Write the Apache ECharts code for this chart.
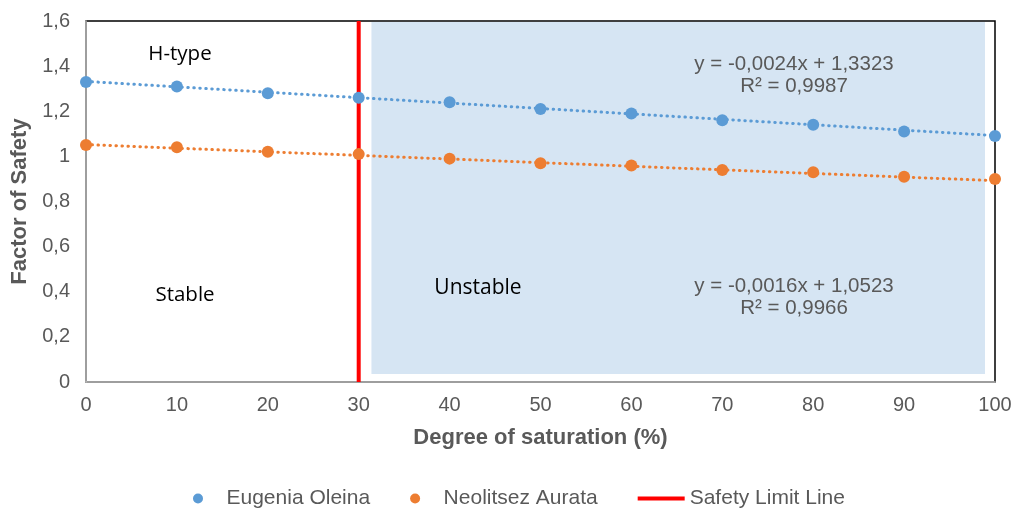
<!DOCTYPE html>
<html>
<head>
<meta charset="utf-8">
<script src="https://cdn.jsdelivr.net/npm/echarts@6/dist/echarts.min.js"></script>
<style>
html,body{margin:0;padding:0;background:#fff;}
#chart{width:1015px;height:509px;}
</style>
</head>
<body>
<div id="chart"></div>
<script>
// ---- data ----
const saturation = [0, 10, 20, 30, 40, 50, 60, 70, 80, 90, 100];
const eugeniaOleina = [1.33, 1.31, 1.28, 1.26, 1.24, 1.21, 1.19, 1.16, 1.14, 1.11, 1.09];
const neolitsezAurata = [1.05, 1.04, 1.02, 1.01, 0.99, 0.97, 0.96, 0.94, 0.93, 0.91, 0.90];
// trend line end values (x = 0 and x = 100)
const trendX = [0, 100];
const trendEugenia = [1.3323, 1.0923];
const trendNeolitsez = [1.0523, 0.8923];
// safety limit line
const safetyLimitX = 30;
const safetyLimitY = [0, 1.6];
// shaded "unstable" zone in data units
const unstableZoneX = [31.4, 98.9];
const unstableZoneY = [0.035, 1.596];
const yTicks = { min: 0, max: 1.6, interval: 0.2 };
const xTicks = { min: 0, max: 100, interval: 10 };
const seriesNames = ['Eugenia Oleina', 'Neolitsez Aurata', 'Safety Limit Line'];
const equations = [
  ['y = -0,0024x + 1,3323', 'R² = 0,9987'],
  ['y = -0,0016x + 1,0523', 'R² = 0,9966']
];
const regionLabels = ['H-type', 'Stable', 'Unstable'];

const BLUE = '#5B9BD5', ORANGE = '#ED7D31', GRAY = '#595959';
const pairs = (xs, ys) => xs.map((x, i) => [x, ys[i]]);
const fmt = v => String(+(+v).toFixed(1)).replace('.', ',');

const chart = echarts.init(document.getElementById('chart'), null, { renderer: 'canvas' });
const dotted = c => ({ color: c, width: 3, type: [0.5, 5.5], cap: 'round' });
const txt = (t, x, y, size, fill, fam) => ({
  type: 'text', z: 100, position: [x, y],
  style: { text: t, fontFamily: fam, fontSize: size, fill: fill, textAlign: 'center', textVerticalAlign: 'middle' }
});

chart.setOption({
  animation: false,
  backgroundColor: '#fff',
  grid: { left: 86, right: 20, top: 21, bottom: 127, show: true, borderColor: '#000', borderWidth: 1.5, backgroundColor: 'transparent' },
  xAxis: {
    type: 'value', min: xTicks.min, max: xTicks.max, interval: xTicks.interval,
    name: 'Degree of saturation (%)', nameLocation: 'middle', nameGap: 45,
    nameTextStyle: { fontFamily: 'Liberation Sans', fontSize: 22, fontWeight: 'bold', color: GRAY },
    axisLine: { show: true, lineStyle: { color: '#BFBFBF', width: 1.5 } },
    axisTick: { show: false }, splitLine: { show: false },
    axisLabel: { fontFamily: 'Liberation Sans', fontSize: 20, color: GRAY, margin: 13 }
  },
  yAxis: {
    type: 'value', min: yTicks.min, max: yTicks.max, interval: yTicks.interval,
    name: 'Factor of Safety', nameLocation: 'middle', nameGap: 55,
    nameTextStyle: { fontFamily: 'Liberation Sans', fontSize: 22, fontWeight: 'bold', color: GRAY },
    axisLine: { show: true, lineStyle: { color: '#BFBFBF', width: 1.5 } },
    axisTick: { show: false }, splitLine: { show: false },
    axisLabel: { fontFamily: 'Liberation Sans', fontSize: 20, color: GRAY, margin: 16, formatter: fmt }
  },
  legend: {
    left: 188, top: 483, itemWidth: 47, itemHeight: 10, itemGap: 40,
    textStyle: { fontFamily: 'Liberation Sans', fontSize: 21, color: GRAY },
    data: [
      { name: seriesNames[0], icon: 'circle' },
      { name: seriesNames[1], icon: 'circle' },
      { name: seriesNames[2], icon: 'path://M0,0L47,0L47,4L0,4Z' }
    ]
  },
  series: [
    { name: seriesNames[2], type: 'line', z: 1, symbol: 'none', silent: true,
      data: safetyLimitY.map(y => [safetyLimitX, y]),
      lineStyle: { color: '#FF0000', width: 4 }, itemStyle: { color: '#FF0000' } },
    { name: 'trendE', type: 'line', z: 2, symbol: 'none', silent: true,
      data: pairs(trendX, trendEugenia), lineStyle: dotted(BLUE) },
    { name: 'trendN', type: 'line', z: 2, symbol: 'none', silent: true,
      data: pairs(trendX, trendNeolitsez), lineStyle: dotted(ORANGE) },
    { name: seriesNames[0], type: 'scatter', z: 3, symbol: 'circle', symbolSize: 12,
      data: pairs(saturation, eugeniaOleina), itemStyle: { color: BLUE, opacity: 1 } },
    { name: seriesNames[1], type: 'scatter', z: 3, symbol: 'circle', symbolSize: 12,
      data: pairs(saturation, neolitsezAurata), itemStyle: { color: ORANGE, opacity: 1 } },
    { name: 'zone', type: 'line', z: 10, data: [], silent: true,
      markArea: { silent: true, itemStyle: { color: 'rgba(96,155,210,0.26)' },
        data: [[{ coord: [unstableZoneX[0], unstableZoneY[0]] }, { coord: [unstableZoneX[1], unstableZoneY[1]] }]] } }
  ],
  graphic: [
    txt(regionLabels[0], 180, 54, 20.5, '#000', 'Open Sans'),
    txt(regionLabels[1], 185, 295, 20.5, '#000', 'Open Sans'),
    txt(regionLabels[2], 478, 288, 21, '#000', 'Open Sans'),
    txt(equations[0][0], 794, 64, 20.5, GRAY, 'Liberation Sans'),
    txt(equations[0][1], 794, 86, 20.5, GRAY, 'Liberation Sans'),
    txt(equations[1][0], 794, 286, 20.5, GRAY, 'Liberation Sans'),
    txt(equations[1][1], 794, 308, 20.5, GRAY, 'Liberation Sans')
  ]
});
</script>
</body>
</html>
